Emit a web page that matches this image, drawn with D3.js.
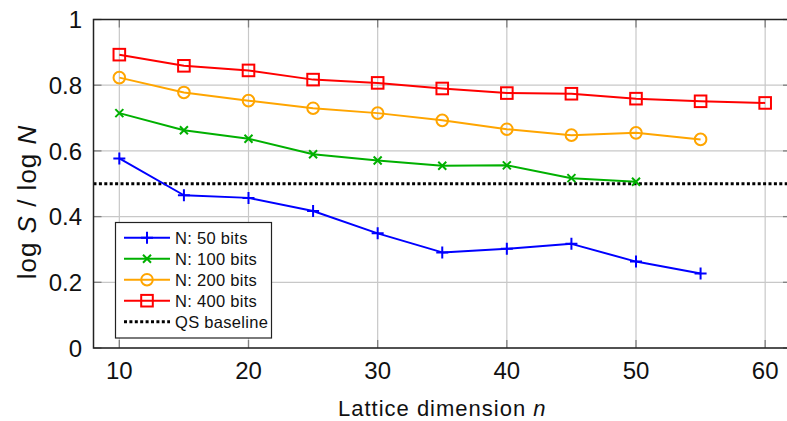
<!DOCTYPE html>
<html lang="en">

<head>
    <meta charset="UTF-8">
    <script src="https://cdn.jsdelivr.net/npm/d3@7"></script>
    <style>
        * {
            margin: 0;
            padding: 0;
        }

        body {
            background: #ffffff;
        }

        text {
            font-family: "Liberation Sans", Arial, sans-serif;
        }
    </style>
    <title>log S / log N</title>
</head>

<body>
    <script>
        const width = 787;
        const height = 421;
        const plot = { left: 93.5, right: 791, top: 19.5, bottom: 348 };

        const xTicks = [10, 20, 30, 40, 50, 60];
        const yTicks = [0, 0.2, 0.4, 0.6, 0.8, 1];
        const baseline = 0.5;

        const n50 = [10, 15, 20, 25, 30, 35, 40, 45, 50, 55];
        const v50 = [0.577, 0.465, 0.457, 0.417, 0.349, 0.291, 0.302, 0.317, 0.263, 0.227];
        const n100 = [10, 15, 20, 25, 30, 35, 40, 45, 50];
        const v100 = [0.715, 0.663, 0.637, 0.590, 0.571, 0.555, 0.556, 0.517, 0.506];
        const n200 = [10, 15, 20, 25, 30, 35, 40, 45, 50, 55];
        const v200 = [0.823, 0.778, 0.753, 0.730, 0.715, 0.693, 0.666, 0.648, 0.655, 0.635];
        const n400 = [10, 15, 20, 25, 30, 35, 40, 45, 50, 55, 60];
        const v400 = [0.893, 0.859, 0.845, 0.817, 0.807, 0.790, 0.776, 0.774, 0.759, 0.751, 0.746];

        const series = [
            { label: "N: 50 bits", color: "#0000ff", marker: "plus", n: n50, v: v50 },
            { label: "N: 100 bits", color: "#00b000", marker: "cross", n: n100, v: v100 },
            { label: "N: 200 bits", color: "#ffa500", marker: "circle", n: n200, v: v200 },
            { label: "N: 400 bits", color: "#ff0000", marker: "square", n: n400, v: v400 },
        ];

        const x = d3.scaleLinear().domain([8, 62]).range([plot.left, plot.right]);
        const y = d3.scaleLinear().domain([0, 1]).range([plot.bottom, plot.top]);

        const svg = d3.select("body").append("svg")
            .attr("width", width)
            .attr("height", height);

        // grid
        svg.append("g").selectAll("line.gx").data(xTicks).enter().append("line")
            .attr("x1", d => x(d)).attr("x2", d => x(d))
            .attr("y1", plot.top).attr("y2", plot.bottom)
            .attr("stroke", "#c8c8c8").attr("stroke-width", 1.2);
        svg.append("g").selectAll("line.gy").data(yTicks).enter().append("line")
            .attr("x1", plot.left).attr("x2", plot.right)
            .attr("y1", d => y(d)).attr("y2", d => y(d))
            .attr("stroke", "#c8c8c8").attr("stroke-width", 1.2);

        // inner ticks
        const tl = 8;
        const ticks = svg.append("g").attr("stroke", "#808080").attr("stroke-width", 1.3);
        xTicks.forEach(t => {
            ticks.append("line").attr("x1", x(t)).attr("x2", x(t)).attr("y1", plot.bottom).attr("y2", plot.bottom - tl);
            ticks.append("line").attr("x1", x(t)).attr("x2", x(t)).attr("y1", plot.top).attr("y2", plot.top + tl);
        });
        yTicks.forEach(t => {
            ticks.append("line").attr("x1", plot.left).attr("x2", plot.left + tl).attr("y1", y(t)).attr("y2", y(t));
            ticks.append("line").attr("x1", plot.right).attr("x2", plot.right - tl).attr("y1", y(t)).attr("y2", y(t));
        });

        // QS baseline
        svg.append("line")
            .attr("x1", plot.left).attr("x2", plot.right)
            .attr("y1", y(baseline)).attr("y2", y(baseline))
            .attr("stroke", "#000").attr("stroke-width", 3)
            .attr("stroke-dasharray", "3,2.4");

        function drawMarker(g, type, color, cx, cy) {
            if (type === "plus") {
                g.append("path").attr("d", `M${cx - 6},${cy}H${cx + 6}M${cx},${cy - 6}V${cy + 6}`)
                    .attr("stroke", color).attr("stroke-width", 2).attr("fill", "none");
            } else if (type === "cross") {
                g.append("path").attr("d", `M${cx - 4},${cy - 4}L${cx + 4},${cy + 4}M${cx - 4},${cy + 4}L${cx + 4},${cy - 4}`)
                    .attr("stroke", color).attr("stroke-width", 2).attr("fill", "none");
            } else if (type === "circle") {
                g.append("circle").attr("cx", cx).attr("cy", cy).attr("r", 5.8)
                    .attr("stroke", color).attr("stroke-width", 2).attr("fill", "none");
            } else {
                g.append("rect").attr("x", cx - 5.8).attr("y", cy - 5.8).attr("width", 11.6).attr("height", 11.6)
                    .attr("stroke", color).attr("stroke-width", 2).attr("fill", "none");
            }
        }

        const line = d3.line().x(d => x(d[0])).y(d => y(d[1]));
        series.forEach(s => {
            const pts = s.n.map((n, i) => [n, s.v[i]]);
            const g = svg.append("g");
            g.append("path").attr("d", line(pts))
                .attr("fill", "none").attr("stroke", s.color).attr("stroke-width", 2)
                .attr("stroke-linejoin", "round");
            pts.forEach(p => drawMarker(g, s.marker, s.color, x(p[0]), y(p[1])));
        });

        // frame
        svg.append("rect")
            .attr("x", plot.left).attr("y", plot.top)
            .attr("width", plot.right - plot.left).attr("height", plot.bottom - plot.top)
            .attr("fill", "none").attr("stroke", "#222").attr("stroke-width", 1.5);

        // tick labels
        svg.append("g").selectAll("text").data(xTicks).enter().append("text")
            .attr("x", d => x(d)).attr("y", 378.5)
            .attr("text-anchor", "middle").attr("font-size", 24).attr("fill", "#111")
            .text(d => d);
        svg.append("g").selectAll("text").data(yTicks).enter().append("text")
            .attr("x", 82).attr("y", d => y(d) + 8.8)
            .attr("text-anchor", "end").attr("font-size", 24).attr("fill", "#111")
            .text(d => d3.format("~g")(d));

        // axis labels
        const xl = svg.append("text")
            .attr("x", (plot.left + plot.right) / 2).attr("y", 416)
            .attr("text-anchor", "middle").attr("font-size", 22).attr("letter-spacing", 1)
            .attr("fill", "#111");
        xl.append("tspan").text("Lattice dimension ");
        xl.append("tspan").attr("font-style", "italic").text("n");

        const yl = svg.append("text")
            .attr("transform", `translate(36,202) rotate(-90)`)
            .attr("text-anchor", "middle").attr("font-size", 26).attr("letter-spacing", 1)
            .attr("fill", "#111");
        yl.append("tspan").text("log ");
        yl.append("tspan").attr("font-style", "italic").text("S");
        yl.append("tspan").text(" /  log ");
        yl.append("tspan").attr("font-style", "italic").text("N");

        // legend
        const lg = svg.append("g");
        lg.append("rect").attr("x", 115.5).attr("y", 222.5).attr("width", 156).attr("height", 115.5)
            .attr("fill", "#fff").attr("stroke", "#222").attr("stroke-width", 1.2);
        const rowY = i => 237.7 + i * 21;
        series.forEach((s, i) => {
            lg.append("line").attr("x1", 124).attr("x2", 170).attr("y1", rowY(i)).attr("y2", rowY(i))
                .attr("stroke", s.color).attr("stroke-width", 2);
            drawMarker(lg, s.marker, s.color, 147, rowY(i));
            lg.append("text").attr("x", 175).attr("y", rowY(i) + 6)
                .attr("font-size", 16.5).attr("letter-spacing", 0.3).attr("fill", "#111").text(s.label);
        });
        lg.append("line").attr("x1", 124).attr("x2", 170).attr("y1", rowY(4)).attr("y2", rowY(4))
            .attr("stroke", "#000").attr("stroke-width", 3).attr("stroke-dasharray", "3,2.4");
        lg.append("text").attr("x", 175).attr("y", rowY(4) + 6)
            .attr("font-size", 16.5).attr("letter-spacing", 0.3).attr("fill", "#111").text("QS baseline");
    </script>
</body>

</html>
